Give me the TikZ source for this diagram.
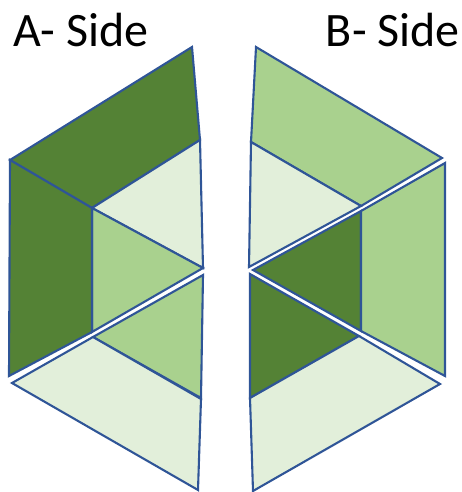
\documentclass[tikz,border=0pt]{standalone}
\usepackage{fontspec}
\setmainfont{Carlito}
\definecolor{dkg}{HTML}{548235}
\definecolor{mdg}{HTML}{A9D18E}
\definecolor{ltg}{HTML}{E2EFDA}
\definecolor{edge}{HTML}{2F5597}
\begin{document}
\begin{tikzpicture}[x=1pt,y=-1pt,
  face/.style={draw=edge,line width=2.1pt,line join=miter},
  dark/.style={face,fill=dkg},
  mid/.style={face,fill=mdg},
  light/.style={face,fill=ltg},
  lbl/.style={inner sep=0pt,font=\fontsize{48}{52}\selectfont}]
\useasboundingbox (0,0) rectangle (462,492);
% labels
\node[lbl,anchor=base west] (la) at (13,47) {A- Side};
\node[lbl,anchor=base east] (lb) at (460,47) {B- Side};
% A side, upper piece
\path[dark]  (10,160) -- (192,47) -- (200,140) -- (92,208) -- cycle;
\path[light] (200,140) -- (92,208) -- (203,268) -- cycle;
\path[mid]   (92,208) -- (203,268) -- (92,332) -- cycle;
\path[dark]  (10,160) -- (92,208) -- (92,332) -- (9,376) -- cycle;
% A side, lower piece
\path[mid]   (203,275) -- (93,337) -- (201,398) -- cycle;
\path[light] (12,383) -- (93,337) -- (201,399) -- (198,490) -- cycle;
% B side
\path[mid]   (256,47) -- (442,158) -- (361,206) -- (251,142) -- cycle;
\path[light] (251,142) -- (361,206) -- (249,267) -- cycle;
\path[dark]  (361,211) -- (253,270) -- (361,331) -- cycle;
\path[mid]   (361,211) -- (445,163) -- (445,376) -- (361,331) -- cycle;
\path[dark]  (250,274) -- (359,336) -- (250,398) -- cycle;
\path[light] (250,398) -- (359,336) -- (440,384) -- (253,491) -- cycle;
\end{tikzpicture}
\end{document}
